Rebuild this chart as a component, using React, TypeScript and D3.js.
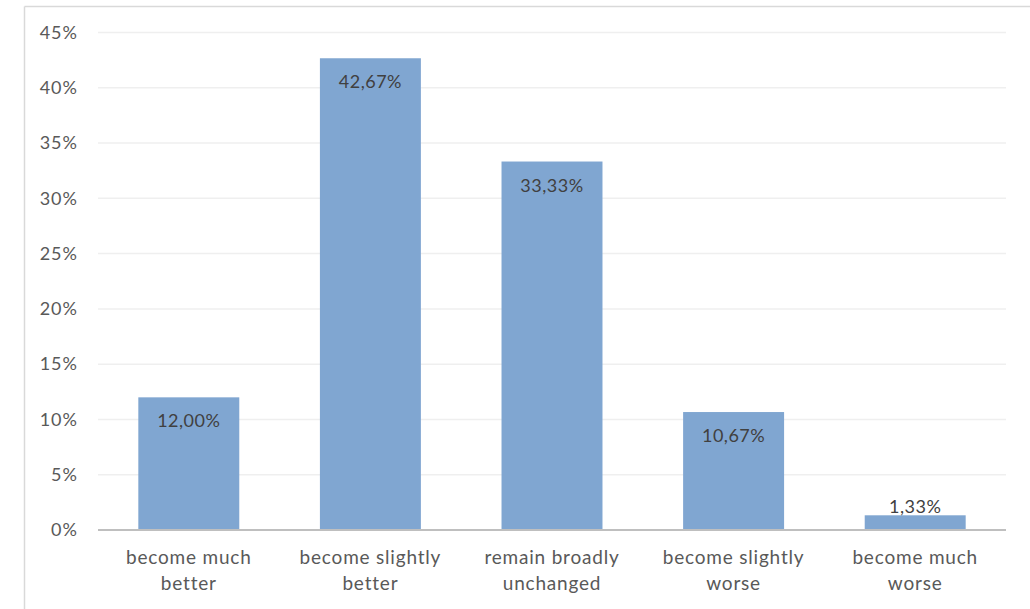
import React from "react";
import * as d3 from "d3";

const categories: string[][] = [
  ["become much", "better"],
  ["become slightly", "better"],
  ["remain broadly", "unchanged"],
  ["become slightly", "worse"],
  ["become much", "worse"],
];
const values: number[] = [12.0, 42.67, 33.33, 10.67, 1.33];
const valueLabels: string[] = ["12,00%", "42,67%", "33,33%", "10,67%", "1,33%"];
const yTicks: number[] = [0, 5, 10, 15, 20, 25, 30, 35, 40, 45];

const W = 1030;
const H = 609;
const plot = { left: 98, right: 1006, top: 32.5, bottom: 530 };
const FONT = "Lato, 'Open Sans', sans-serif";
const TEXT = "#595959";

export default function App() {
  const x = d3
    .scaleBand<number>()
    .domain(d3.range(values.length))
    .range([plot.left, plot.right])
    .paddingInner(0.444)
    .paddingOuter(0.222);
  const y = d3.scaleLinear().domain([0, 45]).range([plot.bottom, plot.top]);

  return (
    <svg
      width={W}
      height={H}
      style={{ position: "absolute", left: 0, top: 0, background: "#fff" }}
      fontFamily={FONT}
    >
      {/* chart frame */}
      <line x1={24.5} x2={W} y1={6.5} y2={6.5} stroke="#d9d9d9" strokeWidth={1.5} />
      <line x1={24.5} x2={24.5} y1={6.5} y2={H} stroke="#d9d9d9" strokeWidth={1.5} />

      {/* gridlines */}
      {yTicks.slice(1).map((t) => (
        <line
          key={t}
          x1={plot.left}
          x2={plot.right}
          y1={y(t)}
          y2={y(t)}
          stroke="#efefef"
          strokeWidth={1.5}
        />
      ))}

      {/* y tick labels */}
      {yTicks.map((t) => (
        <text
          key={t}
          x={78}
          y={y(t)}
          dy="0.35em"
          textAnchor="end"
          fontSize={18}
          letterSpacing={1}
          fill={TEXT}
        >
          {t}%
        </text>
      ))}

      {/* bars */}
      {values.map((v, i) => (
        <rect
          key={i}
          x={x(i)}
          y={y(v)}
          width={x.bandwidth()}
          height={y(0) - y(v)}
          fill="#80a6d1"
        />
      ))}

      {/* value labels */}
      {values.map((v, i) => {
        const cx = (x(i) as number) + x.bandwidth() / 2;
        const inside = y(0) - y(v) > 30;
        return (
          <text
            key={i}
            x={cx}
            y={inside ? y(v) + 30 : y(v) - 2}
            textAnchor="middle"
            fontSize={18}
            letterSpacing={0.5}
            fill="#404040"
          >
            {valueLabels[i]}
          </text>
        );
      })}

      {/* x axis */}
      <line
        x1={plot.left}
        x2={plot.right}
        y1={y(0)}
        y2={y(0)}
        stroke="#bfbfbf"
        strokeWidth={2}
      />

      {/* category labels */}
      {categories.map((lines, i) => {
        const cx = (x(i) as number) + x.bandwidth() / 2;
        return (
          <text
            key={i}
            textAnchor="middle"
            fontSize={19}
            letterSpacing={0.8}
            fill={TEXT}
          >
            {lines.map((l, j) => (
              <tspan key={j} x={cx} y={564 + j * 26}>
                {l}
              </tspan>
            ))}
          </text>
        );
      })}
    </svg>
  );
}
